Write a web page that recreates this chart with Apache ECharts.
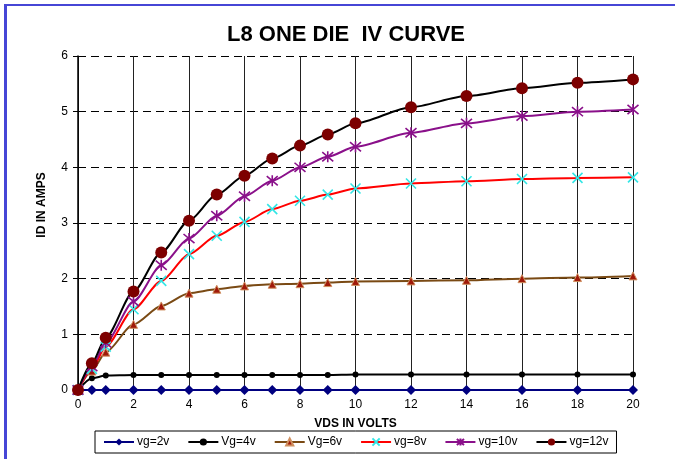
<!DOCTYPE html>
<html>
<head>
<meta charset="utf-8">
<script src="https://cdn.jsdelivr.net/npm/echarts@6/dist/echarts.min.js"></script>
<style>
html,body{margin:0;padding:0;background:#fff;}
#chart{width:675px;height:459px;}
</style>
</head>
<body>
<div id="chart"></div>
<script>
var vds = [0, 0.5, 1, 2, 3, 4, 5, 6, 7, 8, 9, 10, 12, 14, 16, 18, 20];
var vg2  = [0, 0, 0, 0, 0, 0, 0, 0, 0, 0, 0, 0, 0, 0, 0, 0, 0];
var vg4  = [0, 0.21, 0.26, 0.27, 0.27, 0.27, 0.27, 0.27, 0.27, 0.27, 0.27, 0.28, 0.28, 0.28, 0.28, 0.28, 0.28];
var vg6  = [0, 0.34, 0.68, 1.18, 1.51, 1.74, 1.81, 1.87, 1.90, 1.91, 1.93, 1.95, 1.96, 1.97, 2.00, 2.02, 2.05];
var vg8  = [0, 0.38, 0.78, 1.45, 1.96, 2.44, 2.77, 3.02, 3.25, 3.40, 3.51, 3.62, 3.71, 3.75, 3.79, 3.81, 3.82];
var vg10 = [0, 0.42, 0.85, 1.59, 2.24, 2.72, 3.13, 3.48, 3.76, 4.00, 4.19, 4.37, 4.62, 4.79, 4.92, 5.00, 5.04];
var vg12 = [0, 0.48, 0.94, 1.77, 2.47, 3.04, 3.51, 3.85, 4.16, 4.39, 4.59, 4.79, 5.08, 5.28, 5.42, 5.52, 5.58];
var seriesNames = ['vg=2v', 'Vg=4v', 'Vg=6v', 'vg=8v', 'vg=10v', 'vg=12v'];
var titleText = 'L8 ONE DIE  IV CURVE';
var xName = 'VDS IN VOLTS';
var yName = 'ID IN AMPS';

function pairs(ys) { return vds.map(function (x, i) { return [x, ys[i]]; }); }
var FONT = '"Liberation Sans", Arial, sans-serif';
var xPath = 'path://M0,0L10,10M10,0L0,10';
var starPath = 'path://M0,0L10,10M10,0L0,10M5,-1L5,11';

var chart = echarts.init(document.getElementById('chart'), null, {renderer: 'canvas'});
var common = {type: 'line', smooth: 0.25, smoothMonotone: 'x', showSymbol: true, animation: false, z: 3};
chart.setOption({
  animation: false,
  backgroundColor: '#fff',
  title: {
    text: titleText, left: 341, top: 19, textAlign: 'center',
    textStyle: {fontFamily: FONT, fontWeight: 'bold', fontSize: 22, color: '#000'}
  },
  grid: {left: 78, right: 42, top: 56, bottom: 69, containLabel: false},
  legend: {
    left: 95, top: 431,
    padding: [5, 8, 5, 8], itemGap: 18, itemWidth: 30, itemHeight: 9,
    borderColor: '#000', borderWidth: 1,
    textStyle: {fontFamily: FONT, fontSize: 12, color: '#000', padding: [0, 0, 0, -2]},
    data: seriesNames
  },
  xAxis: {
    type: 'value', min: 0, max: 20, interval: 2,
    name: xName, nameLocation: 'middle', nameGap: 28,
    nameTextStyle: {fontFamily: FONT, fontWeight: 'bold', fontSize: 12, color: '#000'},
    axisLine: {show: true, lineStyle: {color: '#000', width: 1}},
    axisTick: {show: false},
    axisLabel: {fontFamily: FONT, fontSize: 12, color: '#000', margin: 9},
    splitLine: {show: true, lineStyle: {color: '#222', width: 1, type: 'solid'}}
  },
  yAxis: {
    type: 'value', min: 0, max: 6, interval: 1,
    name: yName, nameLocation: 'middle', nameGap: 30,
    nameTextStyle: {fontFamily: FONT, fontWeight: 'bold', fontSize: 12, color: '#000', padding: [0, 0, 0, 36]},
    axisLine: {show: true, onZero: false, lineStyle: {color: '#000', width: 1.5}},
    axisTick: {show: true, inside: false, length: 5, lineStyle: {color: '#000'}},
    axisLabel: {fontFamily: FONT, fontSize: 12, color: '#000', margin: 10},
    splitLine: {show: true, lineStyle: {color: '#000', width: 1, type: [8, 5]}}
  },
  graphic: [
    {type: 'rect', shape: {x: 4, y: 4, width: 680, height: 2}, style: {fill: '#4646d6'}, z: 100},
    {type: 'rect', shape: {x: 4, y: 4, width: 3, height: 470}, style: {fill: '#4646d6'}, z: 100}
  ],
  series: [
    Object.assign({}, common, {name: seriesNames[0], data: pairs(vg2), symbol: 'diamond', symbolSize: 10,
      lineStyle: {color: '#000080', width: 2}, itemStyle: {color: '#000080'}}),
    Object.assign({}, common, {name: seriesNames[1], data: pairs(vg4), symbol: 'circle', symbolSize: 6,
      lineStyle: {color: '#000', width: 2}, itemStyle: {color: '#000'}}),
    Object.assign({}, common, {name: seriesNames[2], data: pairs(vg6), symbol: 'triangle', symbolSize: 8,
      lineStyle: {color: '#7a4a14', width: 2}, itemStyle: {color: '#a01a0a', borderColor: '#d09060', borderWidth: 1}}),
    Object.assign({}, common, {name: seriesNames[3], data: pairs(vg8), symbol: xPath, symbolSize: 10,
      lineStyle: {color: '#ff0000', width: 2}, itemStyle: {color: '#ff0000', borderColor: '#33e6e6', borderWidth: 1.6}}),
    Object.assign({}, common, {name: seriesNames[4], data: pairs(vg10), symbol: starPath, symbolSize: 11,
      lineStyle: {color: '#8a108a', width: 2}, itemStyle: {color: '#8a108a', borderColor: '#8a108a', borderWidth: 1.6}}),
    Object.assign({}, common, {name: seriesNames[5], data: pairs(vg12), symbol: 'circle', symbolSize: 12,
      lineStyle: {color: '#000', width: 2}, itemStyle: {color: '#7d0000'}})
  ]
});
</script>
</body>
</html>
